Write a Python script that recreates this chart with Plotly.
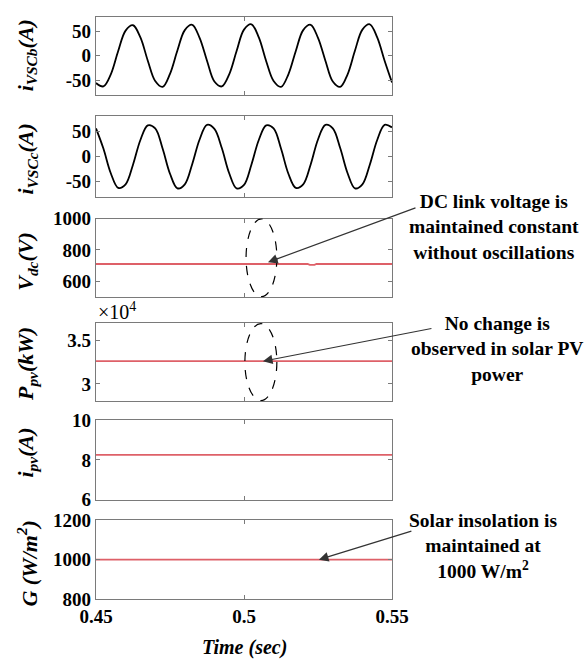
import plotly.graph_objects as go

# ---------------- data ----------------
t_wave = [0.45, 0.4525, 0.455, 0.4575, 0.46, 0.4625, 0.465, 0.4675, 0.47, 0.4725,
          0.475, 0.4775, 0.48, 0.4825, 0.485, 0.4875, 0.49, 0.4925, 0.495, 0.4975,
          0.5, 0.5025, 0.505, 0.5075, 0.51, 0.5125, 0.515, 0.5175, 0.52, 0.5225,
          0.525, 0.5275, 0.53, 0.5325, 0.535, 0.5375, 0.54, 0.5425, 0.545, 0.5475, 0.55]
i_vsc_b = [-56, -63, -38, 10, 52, 63, 38, -10,
           -52, -64, -37, 11, 53, 64, 37, -10,
           -53, -63, -38, 10, 54, 65, 38, -11,
           -52, -64, -38, 10, 53, 64, 37, -10,
           -53, -64, -38, 11, 54, 65, 38, -10,
           -55]
i_vsc_c = [56, 16, -33, -62, -55, -16, 33, 62,
           56, 16, -34, -63, -55, -15, 34, 63,
           55, 17, -33, -63, -56, -16, 33, 62,
           56, 16, -34, -62, -55, -16, 34, 63,
           56, 17, -33, -63, -55, -16, 33, 63,
           58]
t_vdc = [0.45, 0.5215, 0.5222, 0.5238, 0.5245, 0.55]
v_dc = [711, 711, 705, 705, 711, 711]
t_flat = [0.45, 0.55]
p_pv = [32600, 32600]
i_pv = [8.25, 8.25]
g_ins = [1000, 1000]

x_ticks = [0.45, 0.5, 0.55]
x_ticktext = ["0.45", "0.5", "0.55"]

# ---------------- layout geometry ----------------
W, H = 587, 662
ML, MR, MT, MB = 96, 195, 7, 63
PH = H - MT - MB


def yf(px):
    return (H - MB - px) / PH


def xf(px):
    return (px - ML) / (W - ML - MR)


panels_px = [(7, 86), (108, 190), (212, 292), (318, 398), (417, 498), (519, 599)]
domains = [[max(0, yf(b)), min(1, yf(t))] for t, b in panels_px]

FONT = "Liberation Serif"
RED = "#de6068"
FRAME = "#7a7a7a"
TICK_SIZE = 19

fig = go.Figure()
series = [
    (t_wave, i_vsc_b, "black", 1.8, "spline"),
    (t_wave, i_vsc_c, "black", 1.8, "spline"),
    (t_vdc, v_dc, RED, 1.8, "linear"),
    (t_flat, p_pv, RED, 1.8, "linear"),
    (t_flat, i_pv, RED, 1.8, "linear"),
    (t_flat, g_ins, RED, 1.8, "linear"),
]
for k, (x, y, c, w, shp) in enumerate(series):
    sfx = "" if k == 0 else str(k + 1)
    fig.add_trace(go.Scatter(x=x, y=y, mode="lines", xaxis="x" + sfx, yaxis="y" + sfx,
                             line=dict(color=c, width=w, shape=shp, smoothing=1.0),
                             showlegend=False, hoverinfo="skip"))

y_cfg = [
    dict(range=[-80, 80], tickvals=[-50, 0, 50], ticktext=["-50", "0", "50"]),
    dict(range=[-80, 80], tickvals=[-50, 0, 50], ticktext=["-50", "0", "50"]),
    dict(range=[500, 1000], tickvals=[600, 800, 1000], ticktext=["600", "800", "1000"]),
    dict(range=[28000, 37000], tickvals=[30000, 35000], ticktext=["3", "3.5"]),
    dict(range=[6, 10], tickvals=[6, 8, 10], ticktext=["6", "8", "10"]),
    dict(range=[800, 1200], tickvals=[800, 1000, 1200], ticktext=["800", "1000", "1200"]),
]

layout = dict(width=W, height=H, margin=dict(l=ML, r=MR, t=MT, b=MB),
              paper_bgcolor="white", plot_bgcolor="white", showlegend=False)
for k in range(6):
    sfx = "" if k == 0 else str(k + 1)
    layout["xaxis" + sfx] = dict(
        domain=[0, 1], anchor="y" + sfx, range=[0.45, 0.55], tickvals=x_ticks,
        ticktext=x_ticktext, showticklabels=(k == 5), ticks="inside", ticklen=4,
        tickcolor=FRAME, showline=True, linecolor=FRAME, linewidth=1.2, mirror="ticks",
        showgrid=False, zeroline=False,
        tickfont=dict(family=FONT, size=TICK_SIZE, color="black", weight="bold"))
    layout["yaxis" + sfx] = dict(
        domain=domains[k], anchor="x" + sfx, ticks="inside", ticklen=4, tickcolor=FRAME,
        showline=True, linecolor=FRAME, linewidth=1.2, mirror="ticks", showgrid=False,
        zeroline=False, tickfont=dict(family=FONT, size=TICK_SIZE, color="black", weight="bold"),
        **y_cfg[k])
fig.update_layout(**layout)

# y titles
titles = [
    ("<b><i>i</i></b><sub><b><i>VSCb</i></b></sub><b><i>(A)</i></b>", 46),
    ("<b><i>i</i></b><sub><b><i>VSCc</i></b></sub><b><i>(A)</i></b>", 152),
    ("<b><i>V</i></b><sub><b><i>dc</i></b></sub><b><i>(V)</i></b>", 256),
    ("<b><i>P</i></b><sub><b><i>pv</i></b></sub><b><i>(kW)</i></b>", 360),
    ("<b><i>i</i></b><sub><b><i>pv</i></b></sub><b><i>(A)</i></b>", 450),
    ("<b><i>G (W/m<sup>2</sup>)</i></b>", 563),
]
for txt, ypx in titles:
    fig.add_annotation(text=txt, xref="paper", yref="paper", x=xf(27), y=yf(ypx),
                       textangle=-90, showarrow=False, xanchor="center", yanchor="middle",
                       font=dict(family=FONT, size=22, color="black"))

# x title
fig.add_annotation(text="<b><i>Time (sec)</i></b>", xref="paper", yref="paper",
                   x=xf(244), y=yf(648), showarrow=False, xanchor="center", yanchor="middle",
                   font=dict(family=FONT, size=20, color="black"))

# exponent label
fig.add_annotation(text="×10<sup>4</sup>", xref="paper", yref="paper", x=0.0, y=yf(306),
                   showarrow=False, xanchor="left", yanchor="middle",
                   font=dict(family=FONT, size=20, color="black"))

# callout texts
callouts = [
    ("<b>DC link voltage is<br>maintained constant<br>without oscillations</b>", 494, 221),
    ("<b>No change is<br>observed in solar PV<br>power</b>", 497, 345),
    ("<b>Solar insolation is<br>maintained at<br>1000 W/m<sup>2</sup></b>", 483, 545),
]
for txt, xpx, ypx in callouts:
    fig.add_annotation(text=txt, xref="paper", yref="paper", x=xf(xpx), y=yf(ypx),
                       showarrow=False, xanchor="center", yanchor="middle", align="center",
                       font=dict(family=FONT, size=19.5, color="black"))

# arrows
arrows = [
    ("x3", "y3", 0.5081, 722, 149, -55),
    ("x4", "y4", 0.5064, 32600, 170, -33),
    ("x6", "y6", 0.5253, 1000, 94, -29),
]
for xr, yr, x, y, ax, ay in arrows:
    fig.add_annotation(text=" ", xref=xr, yref=yr, x=x, y=y, ax=ax, ay=ay,
                       showarrow=True, arrowhead=2, arrowsize=1.6, arrowwidth=1.2,
                       arrowcolor="#333333", font=dict(size=1))

# dashed ellipses
fig.add_shape(type="circle", xref="x3", yref="y3", x0=0.5007, x1=0.5111, y0=503, y1=998,
              line=dict(color="black", width=1.2, dash="dash"))
fig.add_shape(type="circle", xref="x4", yref="y4", x0=0.5003, x1=0.5111, y0=28100, y1=36900,
              line=dict(color="black", width=1.2, dash="dash"))

fig.write_html("out.html")
